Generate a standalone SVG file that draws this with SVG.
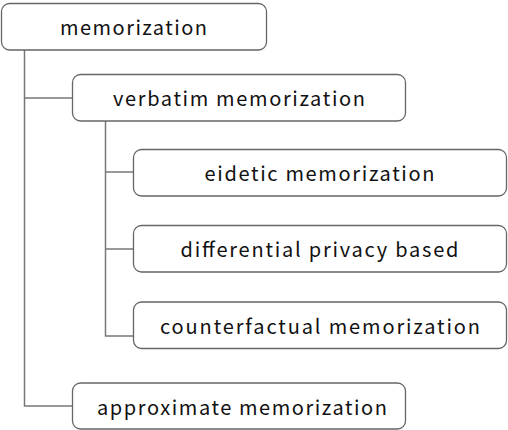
<svg xmlns="http://www.w3.org/2000/svg" width="508" height="430" viewBox="0 0 508 430">
<style>
.box{fill:#fff;stroke:#666;stroke-width:1.3}
.lbl{font-family:"Noto Sans CJK JP","DejaVu Sans",sans-serif;font-size:20px;fill:#111;text-anchor:middle;dominant-baseline:central}
.conn{fill:none;stroke:#777;stroke-width:1.5}
</style>
<rect width="508" height="430" fill="#fff"/>
<g id="connectors">
<path class="conn" d="M24.5 50 V406 H72"/>
<path class="conn" d="M24.5 98 H72"/>
<path class="conn" d="M105.5 121 V336 H133"/>
<path class="conn" d="M105.5 172 H133"/>
<path class="conn" d="M105.5 249 H133"/>
</g>
<g id="n-memorization"><rect class="box" x="1.5" y="3.5" width="265" height="46.5" rx="8"/><text class="lbl" x="133.5" y="26.5" textLength="147">memorization</text></g>
<g id="n-verbatim"><rect class="box" x="72.5" y="74.5" width="333" height="46.5" rx="8"/><text class="lbl" x="239" y="97.5" textLength="252">verbatim memorization</text></g>
<g id="n-eidetic"><rect class="box" x="133.5" y="149.5" width="373" height="46.5" rx="8"/><text class="lbl" x="319.5" y="172.5" textLength="230">eidetic memorization</text></g>
<g id="n-differential"><rect class="box" x="133.5" y="225.5" width="373" height="46.5" rx="8"/><text class="lbl" x="319.5" y="248.5" textLength="278">differential privacy based</text></g>
<g id="n-counterfactual"><rect class="box" x="133.5" y="302" width="373" height="46.5" rx="8"/><text class="lbl" x="320" y="325" textLength="320">counterfactual memorization</text></g>
<g id="n-approximate"><rect class="box" x="72.5" y="383" width="333" height="46" rx="8"/><text class="lbl" x="242" y="406" textLength="290">approximate memorization</text></g>
</svg>
